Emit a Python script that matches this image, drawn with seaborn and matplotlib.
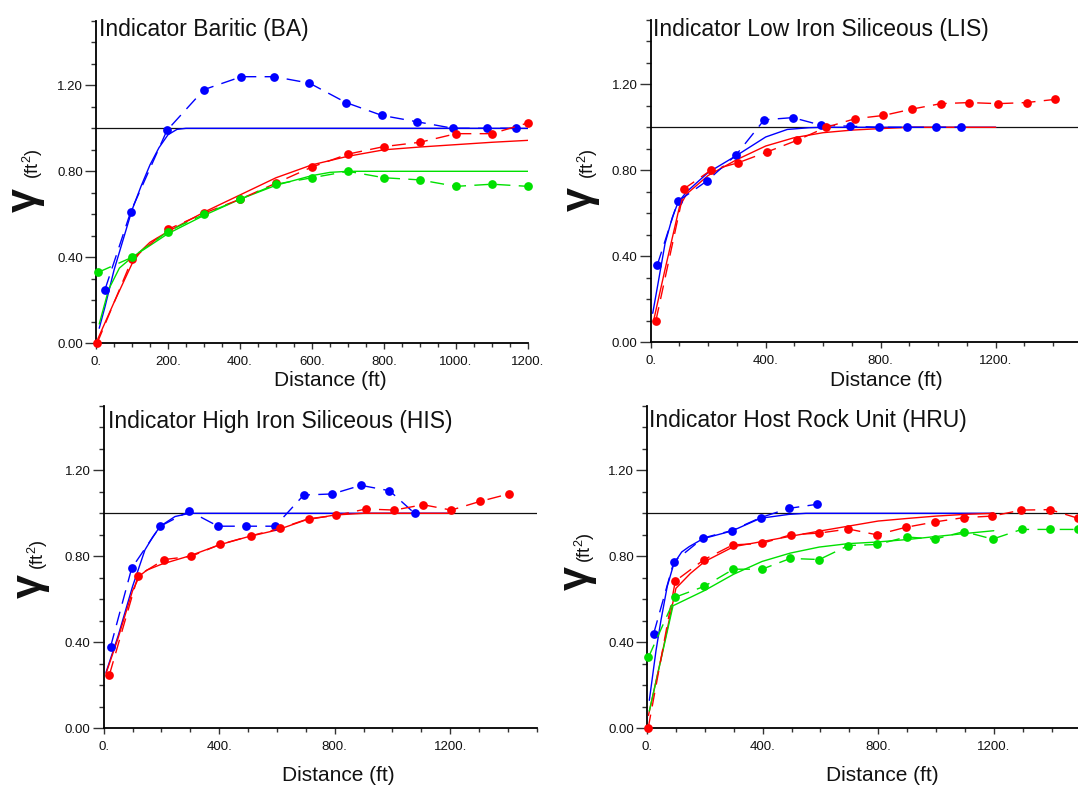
import matplotlib
matplotlib.use("Agg")
import matplotlib.pyplot as plt
from matplotlib.ticker import MultipleLocator, FuncFormatter
import seaborn as sns

# ---------------- Indicator Baritic (BA) ----------------
ba_blue_lag = [25, 96, 197, 300, 404, 495, 593, 694, 794, 893, 992, 1086, 1167]
ba_blue_gam = [0.25, 0.61, 0.99, 1.18, 1.24, 1.24, 1.21, 1.12, 1.06, 1.03, 1.00, 1.00, 1.00]
ba_red_lag = [3, 100, 200, 300, 400, 500, 600, 700, 800, 900, 1000, 1100, 1200]
ba_red_gam = [0.0, 0.39, 0.53, 0.605, 0.67, 0.745, 0.82, 0.88, 0.915, 0.935, 0.975, 0.975, 1.025]
ba_green_lag = [6, 100, 200, 300, 400, 500, 600, 700, 800, 900, 1000, 1100, 1200]
ba_green_gam = [0.33, 0.40, 0.52, 0.60, 0.67, 0.74, 0.77, 0.80, 0.77, 0.76, 0.73, 0.74, 0.73]

ba_blue_fit_h = [9, 25, 50, 75, 100, 125, 150, 175, 200, 225, 250, 1200]
ba_blue_fit_g = [0.07, 0.17, 0.34, 0.48, 0.62, 0.73, 0.83, 0.91, 0.97, 0.995, 1.0, 1.0]
ba_red_fit_h = [5, 50, 100, 125, 150, 200, 300, 400, 500, 600, 700, 800, 900, 1000, 1100, 1200]
ba_red_fit_g = [0.02, 0.19, 0.37, 0.43, 0.47, 0.52, 0.61, 0.69, 0.77, 0.83, 0.87, 0.90, 0.913, 0.924, 0.935, 0.944]
ba_green_fit_h = [9, 35, 65, 100, 200, 300, 400, 500, 600, 650, 700, 1200]
ba_green_fit_g = [0.09, 0.25, 0.35, 0.40, 0.51, 0.595, 0.67, 0.735, 0.78, 0.795, 0.80, 0.80]

# ---------------- Indicator Low Iron Siliceous (LIS) ----------------
lis_blue_lag = [23, 94, 195, 296, 395, 494, 592, 693, 793, 893, 992, 1080]
lis_blue_gam = [0.36, 0.655, 0.75, 0.87, 1.035, 1.045, 1.01, 1.005, 1.0, 1.0, 1.0, 1.0]
lis_red_lag = [18, 117, 209, 304, 404, 510, 610, 711, 809, 910, 1009, 1108, 1207, 1307, 1407]
lis_red_gam = [0.10, 0.715, 0.80, 0.835, 0.885, 0.94, 1.0, 1.04, 1.055, 1.085, 1.11, 1.115, 1.11, 1.115, 1.13]

lis_blue_fit_h = [7, 25, 50, 75, 95, 125, 150, 200, 300, 400, 475, 550, 600, 1200]
lis_blue_fit_g = [0.135, 0.27, 0.46, 0.58, 0.65, 0.70, 0.73, 0.79, 0.87, 0.955, 0.99, 0.998, 1.0, 1.0]
lis_red_fit_h = [10, 50, 100, 125, 200, 300, 400, 500, 600, 700, 800, 900, 1200]
lis_red_fit_g = [0.10, 0.34, 0.63, 0.69, 0.776, 0.85, 0.913, 0.952, 0.975, 0.987, 0.994, 1.0, 1.0]

# ---------------- Indicator High Iron Siliceous (HIS) ----------------
his_blue_lag = [24, 97, 196, 297, 396, 494, 594, 693, 792, 891, 990, 1077]
his_blue_gam = [0.38, 0.745, 0.94, 1.01, 0.94, 0.94, 0.94, 1.085, 1.09, 1.13, 1.105, 1.0]
his_red_lag = [20, 119, 210, 303, 403, 509, 611, 710, 806, 908, 1007, 1106, 1204, 1303, 1403]
his_red_gam = [0.25, 0.71, 0.785, 0.80, 0.855, 0.895, 0.93, 0.975, 0.99, 1.02, 1.015, 1.04, 1.015, 1.055, 1.09]

his_blue_fit_h = [8, 50, 100, 143, 170, 196, 247, 297, 1200]
his_blue_fit_g = [0.26, 0.43, 0.66, 0.83, 0.89, 0.94, 0.985, 1.0, 1.0]
his_red_fit_h = [8, 50, 100, 125, 150, 200, 300, 400, 500, 600, 700, 800, 900, 1200]
his_red_fit_g = [0.255, 0.42, 0.64, 0.71, 0.736, 0.763, 0.803, 0.853, 0.891, 0.922, 0.969, 0.992, 1.0, 1.0]

# ---------------- Indicator Host Rock Unit (HRU) ----------------
hru_blue_lag = [23, 93, 194, 294, 393, 491, 589]
hru_blue_gam = [0.44, 0.775, 0.885, 0.92, 0.98, 1.023, 1.042]
hru_red_lag = [4, 98, 198, 297, 398, 497, 596, 697, 795, 896, 997, 1096, 1195, 1295, 1395, 1491]
hru_red_gam = [0.0, 0.685, 0.785, 0.853, 0.86, 0.90, 0.908, 0.927, 0.90, 0.935, 0.96, 0.98, 0.987, 1.015, 1.017, 0.977]
hru_green_lag = [5, 98, 198, 299, 398, 496, 596, 697, 797, 898, 997, 1097, 1196, 1296, 1396, 1491]
hru_green_gam = [0.33, 0.61, 0.66, 0.74, 0.74, 0.79, 0.785, 0.85, 0.855, 0.89, 0.88, 0.915, 0.88, 0.925, 0.925, 0.925]

hru_blue_fit_h = [8, 31, 48, 70, 93, 120, 146, 194, 294, 393, 491, 550, 1200]
hru_blue_fit_g = [0.13, 0.36, 0.50, 0.66, 0.766, 0.82, 0.845, 0.882, 0.918, 0.977, 0.995, 1.0, 1.0]
hru_red_fit_h = [5, 50, 100, 150, 200, 300, 400, 500, 600, 700, 800, 900, 1000, 1100, 1200]
hru_red_fit_g = [0.06, 0.333, 0.651, 0.72, 0.776, 0.845, 0.869, 0.894, 0.918, 0.941, 0.964, 0.976, 0.987, 0.995, 1.0]
hru_green_fit_h = [8, 50, 90, 198, 299, 398, 496, 596, 697, 792, 900, 1000, 1100, 1200]
hru_green_fit_g = [0.08, 0.33, 0.57, 0.64, 0.716, 0.776, 0.815, 0.843, 0.859, 0.866, 0.878, 0.892, 0.906, 0.919]

SILL = 1.0
titles = ["Indicator Baritic (BA)", "Indicator Low Iron Siliceous (LIS)",
          "Indicator High Iron Siliceous (HIS)", "Indicator Host Rock Unit (HRU)"]
x_label = "Distance (ft)"

BLUE, RED, GREEN = "#0000ff", "#ff0000", "#00e000"

sns.set_theme(style="ticks")
plt.rcParams["font.family"] = ["Liberation Sans", "DejaVu Sans"]
plt.rcParams["mathtext.fontset"] = "custom"
plt.rcParams["mathtext.rm"] = "Liberation Sans"
plt.rcParams["mathtext.it"] = "Liberation Sans"
plt.rcParams["mathtext.default"] = "rm"

W, H = 1078, 787
fig = plt.figure(figsize=(W / 100, H / 100), dpi=100)
fig.patch.set_facecolor("white")


def fpos(x, y):
    return x / W, 1 - y / H


panels = [
    dict(title=titles[0], xmax=1200, xmajor=200, xminor=50,
         box=(96, 343.3, 528.0),
         title_xy=(99, 36), gam_xy=(35.6, 200), unit_xy=(39.2, 164), xl_xy=(330, 386),
         exp=[(ba_blue_lag, ba_blue_gam, BLUE), (ba_red_lag, ba_red_gam, RED),
              (ba_green_lag, ba_green_gam, GREEN)],
         fit=[(ba_blue_fit_h, ba_blue_fit_g, BLUE), (ba_red_fit_h, ba_red_fit_g, RED),
              (ba_green_fit_h, ba_green_fit_g, GREEN)]),
    dict(title=titles[1], xmax=1500, xmajor=400, xminor=100,
         box=(650.7, 342.3, 1082.0),
         title_xy=(653, 36), gam_xy=(591, 199), unit_xy=(594.5, 164), xl_xy=(886, 386),
         exp=[(lis_blue_lag, lis_blue_gam, BLUE), (lis_red_lag, lis_red_gam, RED)],
         fit=[(lis_blue_fit_h, lis_blue_fit_g, BLUE), (lis_red_fit_h, lis_red_fit_g, RED)]),
    dict(title=titles[2], xmax=1500, xmajor=400, xminor=100,
         box=(103.7, 728.3, 536.7),
         title_xy=(108, 428), gam_xy=(40.7, 586), unit_xy=(44.4, 555), xl_xy=(338, 781),
         exp=[(his_blue_lag, his_blue_gam, BLUE), (his_red_lag, his_red_gam, RED)],
         fit=[(his_blue_fit_h, his_blue_fit_g, BLUE), (his_red_fit_h, his_red_fit_g, RED)]),
    dict(title=titles[3], xmax=1500, xmajor=400, xminor=100,
         box=(647.0, 728.3, 1080.5),
         title_xy=(649, 427), gam_xy=(587.5, 578), unit_xy=(591.1, 548), xl_xy=(882, 781),
         exp=[(hru_blue_lag, hru_blue_gam, BLUE), (hru_red_lag, hru_red_gam, RED),
              (hru_green_lag, hru_green_gam, GREEN)],
         fit=[(hru_blue_fit_h, hru_blue_fit_g, BLUE), (hru_red_fit_h, hru_red_fit_g, RED),
              (hru_green_fit_h, hru_green_fit_g, GREEN)]),
]

YMAX = 1.5
PX_PER_UNIT = 215.0

for p in panels:
    x0, ybot, x1 = p["box"]
    height = YMAX * PX_PER_UNIT
    ax = fig.add_axes([x0 / W, (H - ybot) / H, (x1 - x0) / W, height / H])
    ax.set_facecolor("white")

    # fitted variogram models
    for h, g, c in p["fit"]:
        sns.lineplot(x=h, y=g, ax=ax, color=c, lw=1.0, sort=False,
                     estimator=None, zorder=3)

    # sill
    ax.axhline(SILL, color="#111111", lw=0.9, zorder=2)

    # experimental indicator variograms
    for h, g, c in p["exp"]:
        sns.lineplot(x=h, y=g, ax=ax, color=c, lw=1.0, sort=False, estimator=None,
                     linestyle=(0, (10, 6)), marker="o", markersize=6.3,
                     markeredgewidth=0, markeredgecolor=c, clip_on=False, zorder=4)

    ax.set_xlim(0, p["xmax"])
    ax.set_ylim(0, YMAX)
    ax.set_xlabel("")
    ax.set_ylabel("")

    for side in ("top", "right"):
        ax.spines[side].set_visible(False)
    for side in ("left", "bottom"):
        ax.spines[side].set_linewidth(1.3)
        ax.spines[side].set_color("#000000")

    ax.xaxis.set_major_locator(MultipleLocator(p["xmajor"]))
    ax.xaxis.set_minor_locator(MultipleLocator(p["xminor"]))
    ax.yaxis.set_major_locator(MultipleLocator(0.4))
    ax.yaxis.set_minor_locator(MultipleLocator(0.1))
    ax.xaxis.set_major_formatter(FuncFormatter(lambda v, _: f"{int(round(v))}."))
    ax.yaxis.set_major_formatter(FuncFormatter(lambda v, _: f"{v:.2f}"))

    ax.tick_params(axis="y", which="major", length=8, width=1.0, pad=1.5,
                   labelsize=9.5, color="#333333", labelcolor="#111111")
    ax.tick_params(axis="y", which="minor", length=3.6, width=1.0, color="#333333")
    ax.tick_params(axis="x", which="major", length=4.3, width=1.0, pad=4.5,
                   labelsize=9.5, color="#333333", labelcolor="#111111")
    ax.tick_params(axis="x", which="minor", length=2.9, width=1.0, color="#333333")
    ax.grid(False)

    # panel title inside the top-left corner
    fig.text(*fpos(*p["title_xy"]), p["title"], fontsize=16.5, ha="left",
             va="baseline", color="#111111")
    # y axis label: gamma with unit
    fig.text(*fpos(*p["gam_xy"]), "γ", fontsize=31, fontweight="bold", rotation=90,
             rotation_mode="anchor", ha="center", va="baseline", color="#111111")
    fig.text(*fpos(*p["unit_xy"]), "(ft$^{2}$)", fontsize=13, rotation=90,
             rotation_mode="anchor", ha="center", va="baseline", color="#111111")
    # x axis label
    fig.text(*fpos(*p["xl_xy"]), x_label, fontsize=15, ha="center",
             va="baseline", color="#111111")

fig.savefig("out.png", dpi=100, facecolor="white")
